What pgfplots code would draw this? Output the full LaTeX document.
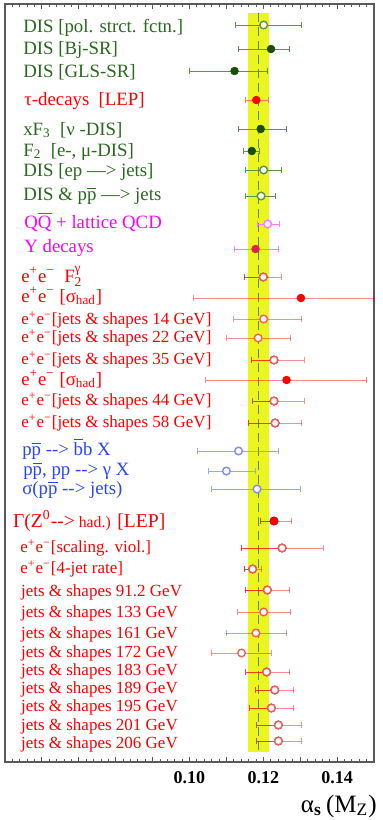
\documentclass[border=0pt]{standalone}
\usepackage{fontspec}
\setmainfont{Liberation Serif}
\usepackage{amsmath}
\usepackage{pgfplots}
\usepackage{pgfplotstable}
\pgfplotsset{compat=1.18}

\definecolor{gtext}{RGB}{40,105,30}
\definecolor{gmark}{RGB}{20,80,10}
\definecolor{gbar}{RGB}{90,150,70}
\definecolor{rtext}{RGB}{255,0,0}
\definecolor{ropen}{RGB}{255,90,90}
\definecolor{taubar}{RGB}{255,120,80}
\definecolor{mtext}{RGB}{255,0,255}
\definecolor{mbar}{RGB}{255,120,255}
\definecolor{upsmark}{RGB}{230,30,80}
\definecolor{btext}{RGB}{40,70,255}
\definecolor{bbar}{RGB}{150,165,255}
\definecolor{bopen}{RGB}{120,140,255}
\definecolor{band}{RGB}{235,245,30}
\definecolor{avg}{RGB}{100,140,50}

\newcommand{\ob}[1]{$\overline{\text{#1}}$}
\newcommand{\ee}{e\textsuperscript{+}e\textsuperscript{−}}
\tikzset{
  lab/.style={anchor=base west, inner sep=0pt, font=\fontsize{9.4}{11}\selectfont},
  labs/.style={anchor=base west, inner sep=0pt, font=\fontsize{8.5}{10}\selectfont},
}
\pgfplotsset{
  error bars/lightbar/.style={error bar style={red, opacity=0.45, line width=0.5pt},
    error mark options={rotate=90, red, opacity=0.45, mark size=1.4pt, line width=0.5pt}},
  error bars/darkbar/.style={error bar style={red, opacity=0.75, line width=0.5pt},
    error mark options={rotate=90, red, opacity=0.75, mark size=1.4pt, line width=0.5pt}},
}

% x = alpha_s, y = row position (top down), em/ep = errors
\pgfplotstableread{
x y em ep
0.1221 49 0.0088 0.0051
0.1122 71 0.0122 0.0089
0.1193 129 0.0061 0.0070
0.1169 151 0.0022 0.0020
}\greenfilled
\pgfplotstableread{
x y em ep
0.1201 25 0.0076 0.0103
0.1201 170 0.0048 0.0048
0.1194 196 0.0041 0.0038
}\greenopen
\pgfplotstableread{
x y em ep
0.1181 100 0.0028 0.0032
}\taudata
\pgfplotstableread{
x y em ep
0.1302 298 0.0290 0.0198
0.1263 380 0.0219 0.0218
}\redfilled
\pgfplotstableread{
x y em ep
0.1229 521 0.0036 0.0048
}\zpole
\pgfplotstableread{
x y em ep
0.1201 319 0.0081 0.0103
0.1186 338 0.0085 0.0088
0.1201 612 0.0070 0.0073
0.1180 633 0.0081 0.0083
0.1141 653 0.0081 0.0080
}\redopen
\pgfplotstableread{
x y em ep
0.1200 277 0.0051 0.0048
0.1229 360 0.0061 0.0082
0.1229 401 0.0057 0.0082
0.1232 423 0.0071 0.0072
0.1251 548 0.0110 0.0111
0.1171 569 0.0023 0.0025
0.1211 590 0.0060 0.0061
0.1209 672 0.0057 0.0063
0.1231 690 0.0052 0.0051
0.1222 708 0.0059 0.0060
0.1241 725 0.0059 0.0062
0.1241 741 0.0059 0.0062
}\redopentt
\pgfplotstableread{
x y em ep
0.1212 224 0.0029 0.0032
}\magopen
\pgfplotstableread{
x y em ep
0.1179 249 0.0057 0.0062
}\ups
\pgfplotstableread{
x y em ep
0.1133 451 0.0111 0.0108
0.1100 471 0.0048 0.0080
0.1183 489 0.0123 0.0118
}\blueopen

\begin{document}
\begin{tikzpicture}
\begin{axis}[name=ax, scale only axis,
  width=184.5pt, height=379pt,
  xmin=0.05, xmax=0.15, ymin=4, ymax=762, y dir=reverse,
  xtick={0.05,0.06,0.07,0.08,0.09,0.10,0.11,0.12,0.13,0.14,0.15},
  xticklabels={,,,,,0.10,,0.12,,0.14,},
  minor x tick num=4, ytick=\empty,
  xtick pos=both, tick align=inside,
  major tick length=2.6pt, minor tick length=1.5pt,
  axis line style={black!65, line width=0.6pt},
  tick style={black!65, line width=0.4pt},
  xticklabel style={font=\fontsize{9}{10}\selectfont\bfseries, anchor=base, yshift=-10.5pt},
]
% world average band
\addplot[fill=band, draw=none, forget plot] coordinates {(0.1159,13) (0.1215,13) (0.1215,752) (0.1159,752)} -- cycle;
\addplot[avg, dashed, dash pattern=on 4.5pt off 2.5pt, line width=0.65pt, forget plot] coordinates {(0.1187,13) (0.1187,752)};

\addplot[only marks, mark=*, mark size=1.9pt, mark options={draw=gmark, fill=gmark},
  error bars/.cd, x dir=both, x explicit,
  error bar style={gbar, line width=0.5pt},
  error mark options={rotate=90, gbar, mark size=1.4pt, line width=0.5pt}]
  table[x=x, y=y, x error minus=em, x error plus=ep] {\greenfilled};
\addplot[only marks, mark=*, mark size=1.9pt, mark options={draw=gbar, fill=white, line width=0.7pt},
  error bars/.cd, x dir=both, x explicit,
  error bar style={gbar, line width=0.5pt},
  error mark options={rotate=90, gbar, mark size=1.4pt, line width=0.5pt}]
  table[x=x, y=y, x error minus=em, x error plus=ep] {\greenopen};
\addplot[only marks, mark=*, mark size=1.9pt, mark options={draw=rtext, fill=rtext},
  error bars/.cd, x dir=both, x explicit,
  error bar style={taubar, line width=0.5pt},
  error mark options={rotate=90, taubar, mark size=1.4pt, line width=0.5pt}]
  table[x=x, y=y, x error minus=em, x error plus=ep] {\taudata};
\addplot[only marks, mark=*, mark size=1.9pt, mark options={draw=rtext, fill=rtext},
  error bars/.cd, x dir=both, x explicit, lightbar]
  table[x=x, y=y, x error minus=em, x error plus=ep] {\redfilled};
\addplot[only marks, mark=*, mark size=1.9pt, mark options={draw=ropen, fill=white, line width=0.7pt},
  error bars/.cd, x dir=both, x explicit, lightbar]
  table[x=x, y=y, x error minus=em, x error plus=ep] {\redopen};
% two-tone bars: lower side darker
\addplot[forget plot, only marks, mark=none,
  error bars/.cd, x dir=plus, x explicit, lightbar]
  table[x=x, y=y, x error minus=em, x error plus=ep] {\redopentt};
\addplot[only marks, mark=*, mark size=1.9pt, mark options={draw=ropen, fill=white, line width=0.7pt},
  error bars/.cd, x dir=minus, x explicit, darkbar]
  table[x=x, y=y, x error minus=em, x error plus=ep] {\redopentt};
\addplot[forget plot, only marks, mark=none,
  error bars/.cd, x dir=plus, x explicit, lightbar]
  table[x=x, y=y, x error minus=em, x error plus=ep] {\zpole};
\addplot[only marks, mark=*, mark size=1.9pt, mark options={draw=rtext, fill=rtext},
  error bars/.cd, x dir=minus, x explicit, darkbar]
  table[x=x, y=y, x error minus=em, x error plus=ep] {\zpole};
\addplot[only marks, mark=*, mark size=1.9pt, mark options={draw=mbar, fill=white, line width=0.7pt},
  error bars/.cd, x dir=both, x explicit,
  error bar style={mbar, line width=0.5pt},
  error mark options={rotate=90, mbar, mark size=1.4pt, line width=0.5pt}]
  table[x=x, y=y, x error minus=em, x error plus=ep] {\magopen};
\addplot[only marks, mark=*, mark size=1.9pt, mark options={draw=upsmark, fill=upsmark},
  error bars/.cd, x dir=both, x explicit,
  error bar style={mbar, line width=0.5pt},
  error mark options={rotate=90, mbar, mark size=1.4pt, line width=0.5pt}]
  table[x=x, y=y, x error minus=em, x error plus=ep] {\ups};
\addplot[only marks, mark=*, mark size=1.9pt, mark options={draw=bopen, fill=white, line width=0.7pt},
  error bars/.cd, x dir=both, x explicit,
  error bar style={bbar, line width=0.5pt},
  error mark options={rotate=90, bbar, mark size=1.4pt, line width=0.5pt}]
  table[x=x, y=y, x error minus=em, x error plus=ep] {\blueopen};

% row labels
\node[lab, text=gtext] at (axis cs:0.05486,32) {DIS [pol. strct. fctn.]};
\node[lab, text=gtext] at (axis cs:0.05486,54) {DIS [Bj-SR]};
\node[lab, text=gtext] at (axis cs:0.05486,77) {DIS [GLS-SR]};
\node[lab, text=rtext] at (axis cs:0.05514,105) {τ-decays~~[LEP]};
\node[lab, text=gtext] at (axis cs:0.05486,135) {xF\textsubscript{3}~~[ν -DIS]};
\node[lab, text=gtext] at (axis cs:0.05486,156) {F\textsubscript{2}~~[e-, μ-DIS]};
\node[lab, text=gtext] at (axis cs:0.05486,176) {DIS [ep —> jets]};
\node[lab, text=gtext] at (axis cs:0.05486,200) {DIS \& p\ob{p} —> jets};
\node[lab, text=mtext] at (axis cs:0.05514,228) {Q\ob{Q} + lattice QCD};
\node[lab, text=mtext] at (axis cs:0.05514,252) {Υ decays};
\node[lab, text=rtext] at (axis cs:0.05432,282) {\ee~~F\rlap{\raisebox{5pt}{\fontsize{6.8}{7}\selectfont γ}}\raisebox{-2.2pt}{\fontsize{6.8}{7}\selectfont 2}};
\node[lab, text=rtext] at (axis cs:0.05432,302) {\ee~[σ\textsubscript{had}]};
\node[labs, text=rtext] at (axis cs:0.05432,324) {\ee[jets \& shapes 14 GeV]};
\node[labs, text=rtext] at (axis cs:0.05432,342) {\ee[jets \& shapes 22 GeV]};
\node[labs, text=rtext] at (axis cs:0.05432,364) {\ee[jets \& shapes 35 GeV]};
\node[lab, text=rtext] at (axis cs:0.05432,385) {\ee~[σ\textsubscript{had}]};
\node[labs, text=rtext] at (axis cs:0.05432,405) {\ee[jets \& shapes 44 GeV]};
\node[labs, text=rtext] at (axis cs:0.05432,427) {\ee[jets \& shapes 58 GeV]};
\node[lab, text=btext] at (axis cs:0.05459,455) {p\ob{p} -{}-{}> \ob{b}b X};
\node[lab, text=btext] at (axis cs:0.05486,475) {p\ob{p}, pp -{}-{}> γ X};
\node[lab, text=btext] at (axis cs:0.05459,494) {σ(p\ob{p} -{}-{}> jets)};
\node[lab, text=rtext] at (axis cs:0.05208,527) {\fontsize{9.8}{11}\selectfont Γ(Z\textsuperscript{0}-{}-{}>\fontsize{7.9}{9}\selectfont{} had.)\fontsize{9.8}{11}\selectfont{} [LEP]};
\node[labs, text=rtext] at (axis cs:0.05405,552) {\ee[scaling. viol.]};
\node[labs, text=rtext] at (axis cs:0.05405,573) {\ee[4-jet rate]};
\node[labs, text=rtext] at (axis cs:0.05424,596) {jets \& shapes 91.2 GeV};
\node[labs, text=rtext] at (axis cs:0.05424,617) {jets \& shapes 133 GeV};
\node[labs, text=rtext] at (axis cs:0.05424,638) {jets \& shapes 161 GeV};
\node[labs, text=rtext] at (axis cs:0.05424,657) {jets \& shapes 172 GeV};
\node[labs, text=rtext] at (axis cs:0.05424,675) {jets \& shapes 183 GeV};
\node[labs, text=rtext] at (axis cs:0.05424,693) {jets \& shapes 189 GeV};
\node[labs, text=rtext] at (axis cs:0.05424,711) {jets \& shapes 195 GeV};
\node[labs, text=rtext] at (axis cs:0.05424,730) {jets \& shapes 201 GeV};
\node[labs, text=rtext] at (axis cs:0.05424,748) {jets \& shapes 206 GeV};
\end{axis}
% axis title
\node[anchor=base east, inner sep=0pt, font=\fontsize{12.5}{14}\selectfont]
  at ([xshift=1.5pt, yshift=-25pt]ax.south east) {α\textsubscript{\bfseries s}\,(M\textsubscript{Z})};
\pgfresetboundingbox
\path ([shift={(-2.5pt,-29pt)}]ax.south west) rectangle ([shift={(4pt,2pt)}]ax.north east);
\end{tikzpicture}
\end{document}
